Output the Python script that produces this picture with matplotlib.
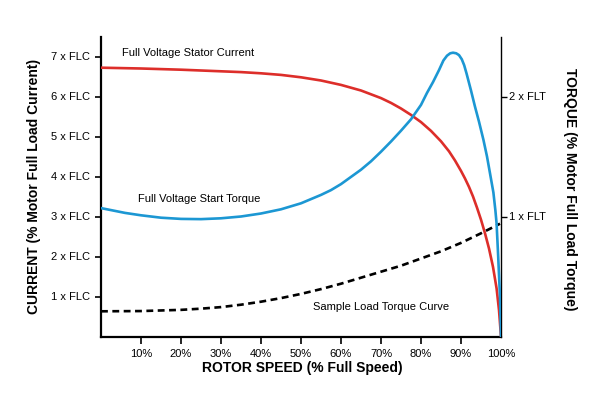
import matplotlib
matplotlib.use("Agg")
import matplotlib.pyplot as plt

plt.rcParams['font.family'] = ['Liberation Sans', 'DejaVu Sans']

# stator current (x full load current) vs rotor speed (%)
cur_speed = [0, 5, 10, 15, 20, 25, 30, 35, 40, 45, 50, 55, 60, 65, 70, 72.5, 75, 77.5, 80, 82.5, 85,
             87, 88.5, 90, 91, 92, 93, 94, 95, 96, 97, 98, 98.9, 99.5, 100]
cur_flc = [6.72, 6.71, 6.70, 6.685, 6.67, 6.65, 6.63, 6.61, 6.58, 6.54, 6.48, 6.40, 6.29, 6.15, 5.96, 5.84,
           5.70, 5.54, 5.36, 5.14, 4.88, 4.63, 4.40, 4.14, 3.95, 3.74, 3.50, 3.22, 2.92, 2.58, 2.20, 1.74,
           1.20, 0.66, 0.0]

# full voltage start torque (x full load torque)
trq_speed = [0, 3, 6, 10, 15, 20, 25, 30, 35, 40, 45, 50, 55, 57.5, 60, 62.5, 65, 67.5, 70, 72.5, 75,
             77.5, 80, 81.5, 83, 84.5, 85.6, 86.5, 87.3, 88, 88.8, 89.5, 90.2, 90.8, 91.4, 92.5, 93.5,
             94.5, 95.6, 96.5, 97.25, 98.1, 98.6, 98.9, 99.3, 99.75, 100]
trq_flt = [1.07, 1.05, 1.03, 1.01, 0.99, 0.98, 0.978, 0.985, 1.0, 1.025, 1.06, 1.11, 1.18, 1.22, 1.27,
           1.33, 1.39, 1.46, 1.54, 1.625, 1.715, 1.81, 1.93, 2.03, 2.12, 2.22, 2.30, 2.34, 2.36, 2.365,
           2.36, 2.345, 2.31, 2.26, 2.19, 2.05, 1.915, 1.79, 1.64, 1.50, 1.36, 1.20, 1.05, 0.94, 0.665,
           0.33, 0.0]

# sample load torque curve
load_speed = [0, 10, 20, 25, 30, 35, 40, 45, 50, 55, 60, 65, 70, 75, 80, 85, 90, 95, 99.75]
load_flt = [0.21, 0.212, 0.222, 0.232, 0.245, 0.265, 0.29, 0.32, 0.355, 0.395, 0.44, 0.49, 0.54, 0.59,
            0.65, 0.71, 0.78, 0.86, 0.94]

xticks = [10, 20, 30, 40, 50, 60, 70, 80, 90, 100]
xtick_labels = ['10%', '20%', '30%', '40%', '50%', '60%', '70%', '80%', '90%', '100%']
cur_ticks = [1, 2, 3, 4, 5, 6, 7]
cur_labels = ['1 x FLC', '2 x FLC', '3 x FLC', '4 x FLC', '5 x FLC', '6 x FLC', '7 x FLC']
trq_ticks = [1, 2]
trq_labels = ['1 x FLT', '2 x FLT']

red = '#dd2e2a'
blue = '#1c97d3'

fig = plt.figure(figsize=(6, 4), dpi=100)
ax = fig.add_axes([101 / 600, 63.5 / 400, 400 / 600, 300 / 400])
ax2 = ax.twinx()

ax.plot(cur_speed, cur_flc, color=red, lw=1.9, solid_capstyle='round', solid_joinstyle='round', zorder=3)
ax2.plot(trq_speed, trq_flt, color=blue, lw=1.9, solid_capstyle='round', solid_joinstyle='round', zorder=3)
ax2.plot(load_speed, load_flt, color='black', lw=1.9, dashes=(2.6, 1.7), zorder=2)

ax.set_xlim(0, 100)
ax.set_ylim(0, 7.5)
ax2.set_ylim(0, 2.5)

ax.set_xticks(xticks)
ax.set_xticklabels(xtick_labels, fontsize=8)
ax.set_yticks(cur_ticks)
ax.set_yticklabels(cur_labels, fontsize=8)
ax2.set_yticks(trq_ticks)
ax2.set_yticklabels(trq_labels, fontsize=8)

ax.tick_params(axis='x', direction='out', length=5, width=1.2, pad=4)
ax.tick_params(axis='y', direction='out', length=4.5, width=1.2, pad=3.5)
ax2.tick_params(axis='y', direction='out', length=4.5, width=1.0, pad=1.5)
ax.xaxis.get_major_ticks()[-1].tick1line.set_visible(False)

for a in (ax, ax2):
    a.spines['top'].set_visible(False)
ax.spines['left'].set_linewidth(1.6)
ax.spines['bottom'].set_linewidth(1.6)
ax.spines['right'].set_visible(False)
ax2.spines['left'].set_visible(False)
ax2.spines['bottom'].set_visible(False)
ax2.spines['right'].set_linewidth(1.0)

ax.set_xlabel('ROTOR SPEED (% Full Speed)', fontsize=10, fontweight='bold')
ax.xaxis.set_label_coords(0.5025, -0.082)
ax.set_ylabel('CURRENT (% Motor Full Load Current)', fontsize=10, fontweight='bold')
ax.yaxis.set_label_coords(-0.15, 0.5)
ax2.set_ylabel('TORQUE (% Motor Full Load Torque)', fontsize=10, fontweight='bold', rotation=270, va='bottom')
ax2.yaxis.set_label_coords(1.155, 0.49)

ax.text(5.2, 7.1, 'Full Voltage Stator Current', fontsize=8, va='center', ha='left')
ax.text(9.3, 3.44, 'Full Voltage Start Torque', fontsize=8, va='center', ha='left')
ax.text(53.1, 0.74, 'Sample Load Torque Curve', fontsize=8, va='center', ha='left')

fig.savefig('out.png', dpi=100)
